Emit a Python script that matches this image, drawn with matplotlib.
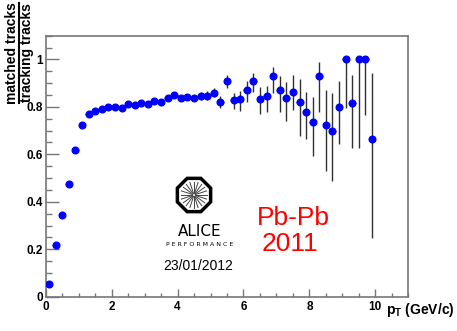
import numpy as np
import matplotlib
matplotlib.use("Agg")
import matplotlib.pyplot as plt
from matplotlib.patches import RegularPolygon
from matplotlib.lines import Line2D

plt.rcParams['font.family'] = ['Liberation Sans', 'DejaVu Sans']
plt.rcParams['mathtext.fontset'] = 'custom'
plt.rcParams['mathtext.rm'] = 'Liberation Sans'
plt.rcParams['mathtext.bf'] = 'Liberation Sans:bold'

# bin centres (GeV/c), bin half width 0.1
pt = [0.1, 0.3, 0.5, 0.7, 0.9, 1.1, 1.3, 1.5, 1.7, 1.9,
      2.1, 2.3, 2.5, 2.7, 2.9, 3.1, 3.3, 3.5, 3.7, 3.9,
      4.1, 4.3, 4.5, 4.7, 4.9, 5.1, 5.3, 5.5, 5.7, 5.9,
      6.1, 6.3, 6.5, 6.7, 6.9, 7.1, 7.3, 7.5, 7.7, 7.9,
      8.1, 8.3, 8.5, 8.7, 8.9, 9.1, 9.3, 9.5, 9.7, 9.9]
ratio = [0.052, 0.216, 0.344, 0.474, 0.620, 0.722, 0.771, 0.784, 0.790, 0.798,
         0.798, 0.797, 0.811, 0.807, 0.815, 0.811, 0.823, 0.822, 0.837, 0.851,
         0.837, 0.842, 0.839, 0.846, 0.846, 0.860, 0.820, 0.909, 0.829, 0.832,
         0.870, 0.910, 0.833, 0.844, 0.929, 0.870, 0.837, 0.863, 0.822, 0.777,
         0.735, 0.929, 0.725, 0.697, 0.800, 1.000, 0.816, 1.000, 1.000, 0.663]
err_lo = [0.001, 0.002, 0.002, 0.002, 0.002, 0.002, 0.002, 0.003, 0.003, 0.003,
          0.003, 0.004, 0.004, 0.004, 0.005, 0.005, 0.006, 0.006, 0.007, 0.008,
          0.009, 0.010, 0.011, 0.015, 0.019, 0.019, 0.024, 0.028, 0.039, 0.048,
          0.048, 0.046, 0.063, 0.067, 0.069, 0.090, 0.095, 0.076, 0.145, 0.112,
          0.141, 0.149, 0.195, 0.209, 0.158, 0.206, 0.191, 0.372, 0.234, 0.414]
err_hi = [0.001, 0.002, 0.002, 0.002, 0.002, 0.002, 0.002, 0.003, 0.003, 0.003,
          0.003, 0.004, 0.004, 0.004, 0.005, 0.005, 0.006, 0.006, 0.007, 0.008,
          0.009, 0.010, 0.011, 0.015, 0.019, 0.019, 0.024, 0.025, 0.031, 0.036,
          0.038, 0.031, 0.049, 0.045, 0.038, 0.061, 0.069, 0.071, 0.094, 0.084,
          0.108, 0.061, 0.146, 0.160, 0.109, 0.000, 0.118, 0.000, 0.000, 0.278]

W, H = 457, 331
fig = plt.figure(figsize=(W / 100, H / 100), dpi=100)
ax = fig.add_axes([45.7 / W, 1 - 296.7 / H, (408.3 - 45.7) / W, (296.7 - 35.7) / H])

ax.errorbar(pt, ratio, yerr=[err_lo, err_hi], xerr=0.1, fmt='o', color='blue',
            ms=4.8, ecolor='#303030', elinewidth=1.0, capsize=0, zorder=3)

ax.set_xlim(0, 11)
ax.set_ylim(0, 1.1)
ax.set_xticks([0, 2, 4, 6, 8, 10])
ax.set_xticks(np.arange(0, 11.01, 0.5), minor=True)
ax.set_yticks([0, 0.2, 0.4, 0.6, 0.8, 1.0])
ax.set_yticks(np.arange(0, 1.101, 0.05), minor=True)
ax.set_xticklabels(['0', '2', '4', '6', '8', '10'])
ax.set_yticklabels(['0', '0.2', '0.4', '0.6', '0.8', '1'])
for lab in ax.get_xticklabels() + ax.get_yticklabels():
    lab.set_fontweight('bold')
    lab.set_fontsize(8.5)
gray = '#777777'
ax.tick_params(axis='x', which='major', direction='in', length=6, width=1, color=gray, pad=3)
ax.tick_params(axis='x', which='minor', direction='in', length=3, width=1, color=gray)
ax.tick_params(axis='y', which='major', direction='in', length=9, width=1, color=gray, pad=2)
ax.tick_params(axis='y', which='minor', direction='in', length=4.5, width=1, color=gray)
for s in ax.spines.values():
    s.set_color(gray)
    s.set_linewidth(1.2)

# axis titles
fig.text(455 / W, 1 - 314 / H, r'$\mathbf{p}_{\mathbf{T}}$ (GeV/c)', ha='right',
         va='baseline', fontsize=10, fontweight='bold')
# fraction label, written as two rotated lines with a bar between them
fig.text(16.5 / W, 1 - 53 / H, 'matched tracks', rotation=90, ha='center', va='baseline',
         fontsize=10, fontweight='bold', rotation_mode='anchor')
fig.text(20.5 / W, 1 - 53 / H, 'tracking tracks', rotation=90, ha='center', va='top',
         fontsize=10, fontweight='bold', rotation_mode='anchor')
fig.add_artist(Line2D([18.5 / W, 18.5 / W], [1 - 3 / H, 1 - 103 / H], color='black', lw=1.5))

# collision system label
fig.text(293 / W, 1 - 218 / H, 'Pb-Pb', color='red', fontsize=19, ha='center', va='center')
fig.text(290 / W, 1 - 244 / H, '2011', color='red', fontsize=19, ha='center', va='center')

# ALICE performance logo
lax = fig.add_axes([174 / W, 1 - 215 / H, 40 / W, 40 / H])
lax.set_xlim(-1, 1)
lax.set_ylim(-1, 1)
lax.axis('off')
lax.add_patch(RegularPolygon((0, 0), 8, radius=0.9, orientation=np.pi / 8,
                             facecolor='white', edgecolor='black', lw=2.5))
for a in np.linspace(0, 2 * np.pi, 20, endpoint=False):
    lax.plot([0.08 * np.cos(a), 0.66 * np.cos(a)], [0.08 * np.sin(a), 0.66 * np.sin(a)],
             color='#444444', lw=0.7)
fig.text(200 / W, 1 - 232 / H, 'ALICE', fontsize=11, ha='center', va='center',
         family='DejaVu Sans')
fig.text(200 / W, 1 - 245 / H, 'P E R F O R M A N C E', fontsize=4.5, ha='center', va='center',
         family='DejaVu Sans')
fig.text(198 / W, 1 - 266 / H, '23/01/2012', fontsize=10, ha='center', va='center')

fig.savefig('out.png', dpi=100)
